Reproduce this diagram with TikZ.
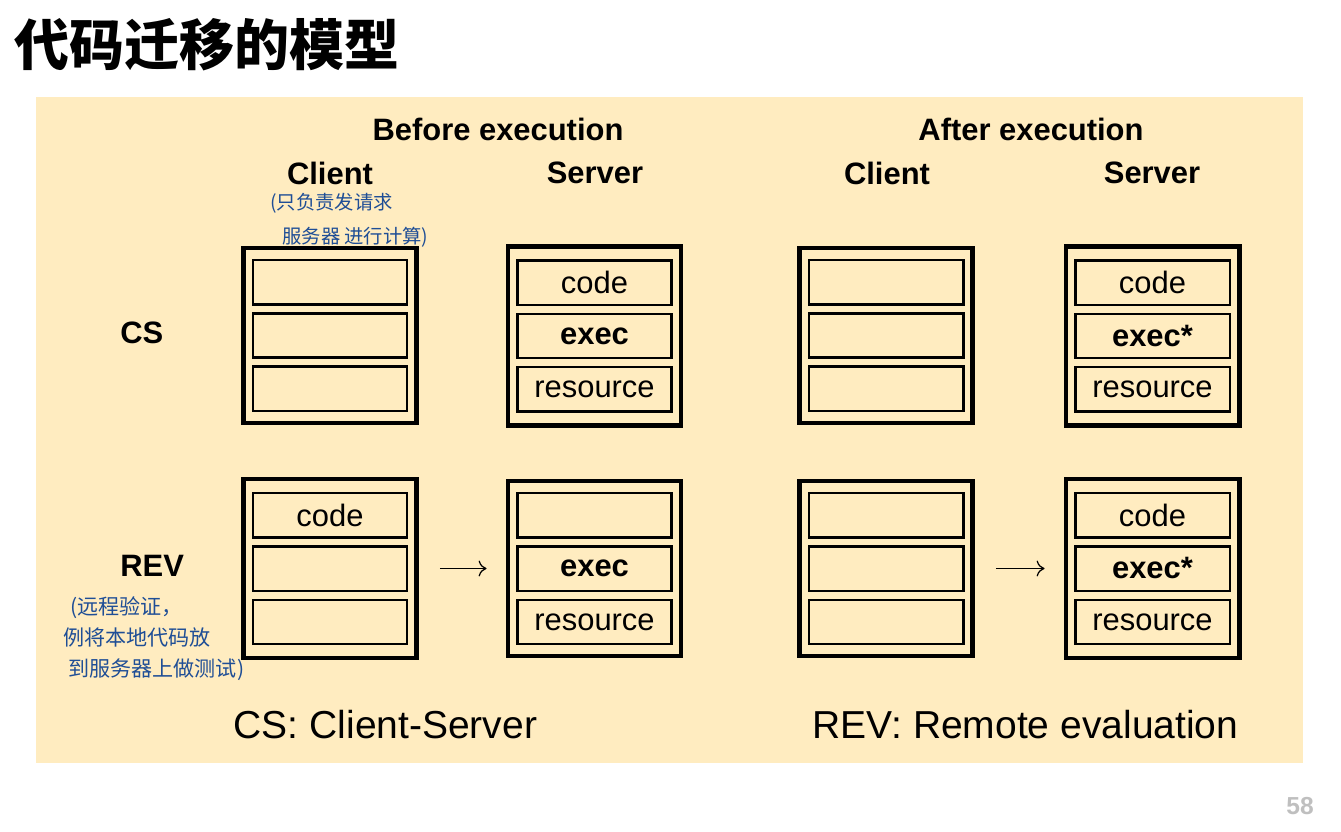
\documentclass[tikz,border=0pt]{standalone}
\usepackage{fontspec}
\setmainfont{Liberation Sans}
\newfontfamily\cjk{Noto Sans CJK SC}
\usetikzlibrary{positioning,arrows.meta}

\definecolor{fondo}{HTML}{FFECC0}
\definecolor{tinta}{HTML}{1F4E96}
\definecolor{gris}{HTML}{BFBFBF}

\tikzset{
  estilo cajas/.style={
      x=0.02cm, y=-0.02cm,
      node distance=0.13cm,
      caja/.style={draw, line width=0.09cm, minimum width=3.47cm, minimum height=3.51cm, inner sep=0pt},
      celda/.style={draw, line width=0.05cm, minimum width=3.09cm, minimum height=0.89cm, inner sep=0pt,
          font={\fontsize{17.6}{20}\selectfont}},
      titulo/.style={inner sep=0pt, font={\fontsize{17.6}{20}\selectfont\bfseries}},
      pie/.style={inner sep=0pt, font={\fontsize{22.2}{26}\selectfont}},
      nota/.style={anchor=north west, inner sep=0pt, align=left, text=tinta},
      flecha/.style={-{To[length=4.5pt,width=9pt]}, line width=0.7pt, shorten <=0.42cm, shorten >=0.38cm},
    },
}

\begin{document}
\begin{tikzpicture}[estilo cajas]
    \useasboundingbox (0,0) rectangle (1341,831);
    \fill[fondo] (36,97) rectangle (1303,763);

    \node[anchor=west, inner sep=0pt, font={\cjk\bfseries\fontsize{31.3}{34}\selectfont}] (titulo) at (14,45) {代码迁移的模型};

    % cabeceras
    \node[titulo] (antes) at (498,129) {Before execution};
    \node[titulo] (despues) at (1031,129) {After execution};
    \node[titulo] (cli-b) at (330,173) {Client};
    \node[titulo] (ser-b) at (595,173) {Server};
    \node[titulo] (cli-a) at (887,173) {Client};
    \node[titulo] (ser-a) at (1152,173) {Server};
    \node[titulo, anchor=west] (cs) at (120,333) {CS};
    \node[titulo, anchor=west] (rev) at (120,566) {REV};

    % fila CS
    \node[caja] (cs-cb) at (330,335.5) {};
    \node[celda] (cs-cb-2) at (cs-cb.center) {};
    \node[celda, above=of cs-cb-2] (cs-cb-1) {};
    \node[celda, below=of cs-cb-2] (cs-cb-3) {};

    \node[caja, minimum height=3.59cm] (cs-sb) at (594.5,336) {};
    \node[celda] (cs-sb-2) at (cs-sb.center) {\bfseries exec};
    \node[celda, above=of cs-sb-2] (cs-sb-1) {code};
    \node[celda, below=of cs-sb-2] (cs-sb-3) {resource};

    \node[caja] (cs-ca) at (886,335.5) {};
    \node[celda] (cs-ca-2) at (cs-ca.center) {};
    \node[celda, above=of cs-ca-2] (cs-ca-1) {};
    \node[celda, below=of cs-ca-2] (cs-ca-3) {};

    \node[caja, minimum height=3.59cm] (cs-sa) at (1152.5,336) {};
    \node[celda] (cs-sa-2) at (cs-sa.center) {\bfseries exec*};
    \node[celda, above=of cs-sa-2] (cs-sa-1) {code};
    \node[celda, below=of cs-sa-2] (cs-sa-3) {resource};

    % fila REV
    \node[caja, minimum height=3.59cm] (rev-cb) at (330,568.5) {};
    \node[celda] (rev-cb-2) at (rev-cb.center) {};
    \node[celda, above=of rev-cb-2] (rev-cb-1) {code};
    \node[celda, below=of rev-cb-2] (rev-cb-3) {};

    \node[caja] (rev-sb) at (594.5,568.5) {};
    \node[celda] (rev-sb-2) at (rev-sb.center) {\bfseries exec};
    \node[celda, above=of rev-sb-2] (rev-sb-1) {};
    \node[celda, below=of rev-sb-2] (rev-sb-3) {resource};

    \node[caja] (rev-ca) at (886,568.5) {};
    \node[celda] (rev-ca-2) at (rev-ca.center) {};
    \node[celda, above=of rev-ca-2] (rev-ca-1) {};
    \node[celda, below=of rev-ca-2] (rev-ca-3) {};

    \node[caja, minimum height=3.59cm] (rev-sa) at (1152.5,568.5) {};
    \node[celda] (rev-sa-2) at (rev-sa.center) {\bfseries exec*};
    \node[celda, above=of rev-sa-2] (rev-sa-1) {code};
    \node[celda, below=of rev-sa-2] (rev-sa-3) {resource};

    \draw[flecha] (rev-cb) -- (rev-sb);
    \draw[flecha] (rev-ca) -- (rev-sa);

    % notas a mano
    \node[nota, font={\cjk\fontsize{11}{19}\selectfont}] (nota-cs) at (270,193)
        {(只负责发请求\\\hspace*{0.24cm}服务器 进行计算)};
    \node[nota, font={\cjk\fontsize{12}{17.6}\selectfont}] (nota-rev) at (63,596)
        {\hspace*{0.14cm}(远程验证，\\例将本地代码放\\\hspace*{0.1cm}到服务器上做测试)};

    \node[pie] (pie-cs) at (385.5,725) {CS: Client-Server};
    \node[pie] (pie-rev) at (1025.5,725) {REV: Remote evaluation};

    \node[text=gris, inner sep=0pt, font={\bfseries\fontsize{14}{17}\selectfont}] (pagina) at (1300,806) {58};
\end{tikzpicture}
\end{document}
